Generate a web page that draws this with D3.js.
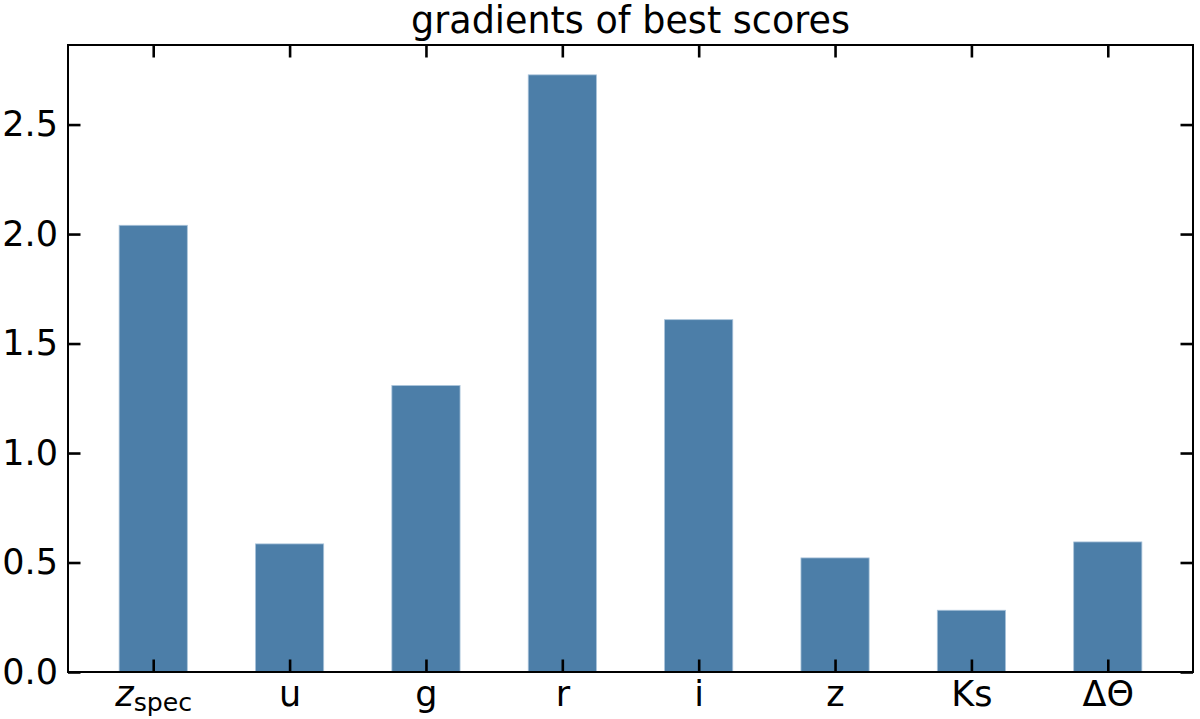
<!DOCTYPE html>
<html>
<head>
<meta charset="utf-8">
<script src="https://cdn.jsdelivr.net/npm/d3@7"></script>
<style>
  html, body { margin: 0; padding: 0; background: #fff; }
  svg { display: block; font-family: "DejaVu Sans", sans-serif; }
</style>
</head>
<body>
<svg id="chart" width="1200" height="719"></svg>
<script>
const categories = ["z_spec", "u", "g", "r", "i", "z", "Ks", "ΔΘ"];
const values = [2.040, 0.585, 1.308, 2.727, 1.609, 0.521, 0.282, 0.594];
const yTicks = [0.0, 0.5, 1.0, 1.5, 2.0, 2.5];
const yTickLabels = ["0.0", "0.5", "1.0", "1.5", "2.0", "2.5"];
const title = "gradients of best scores";

const W = 1200, H = 719;
const m = { left: 68, right: 1193, top: 45, bottom: 672 };
const svg = d3.select("#chart");

const idx = categories.map((d, i) => i);
const x = d3.scaleLinear().domain([-0.625, categories.length - 1 + 0.625]).range([m.left, m.right]);
const y = d3.scaleLinear().domain([0, d3.max(values) * 1.05]).range([m.bottom, m.top]);
const barW = x(0.5) - x(0);

// bars
svg.append("g").selectAll("rect").data(values).join("rect")
  .attr("x", (d, i) => x(i) - barW / 2)
  .attr("width", barW)
  .attr("y", d => y(d))
  .attr("height", d => y(0) - y(d))
  .attr("fill", "#4c7ea8")
  .attr("stroke", "#a9c3da")
  .attr("stroke-width", 0.8);

const fs = 35;
const tickLen = 12.5;

// left axis
const gl = svg.append("g").attr("transform", `translate(${m.left},0)`)
  .call(d3.axisLeft(y).tickValues(yTicks).tickFormat((d, i) => yTickLabels[i])
    .tickSizeInner(-tickLen).tickSizeOuter(0).tickPadding(10));
// right axis
const gr = svg.append("g").attr("transform", `translate(${m.right},0)`)
  .call(d3.axisRight(y).tickValues(yTicks).tickFormat("")
    .tickSizeInner(-tickLen).tickSizeOuter(0));
// bottom axis
const gb = svg.append("g").attr("transform", `translate(0,${m.bottom})`)
  .call(d3.axisBottom(x).tickValues(idx).tickFormat((d) => categories[d])
    .tickSizeInner(-tickLen).tickSizeOuter(0).tickPadding(9));
// top axis
const gt = svg.append("g").attr("transform", `translate(0,${m.top})`)
  .call(d3.axisTop(x).tickValues(idx).tickFormat("")
    .tickSizeInner(-tickLen).tickSizeOuter(0));

[gl, gr, gb, gt].forEach(g => {
  g.select(".domain").remove();
  g.selectAll(".tick line").attr("stroke", "#000").attr("stroke-width", 2.6);
  g.selectAll(".tick text").attr("fill", "#000")
    .style("font-size", fs + "px").style("font-family", "'DejaVu Sans', sans-serif");
});

// z_spec label with subscript
gb.selectAll(".tick text").each(function(d) {
  const lab = categories[d];
  if (lab.includes("_")) {
    const [base, sub] = lab.split("_");
    const t = d3.select(this).text(null);
    t.append("tspan").text(base).style("font-style", "italic");
    t.append("tspan").text(sub).attr("dy", "0.2em").style("font-size", (fs * 0.72) + "px");
  }
});

// frame
svg.append("rect")
  .attr("x", m.left).attr("y", m.top)
  .attr("width", m.right - m.left).attr("height", m.bottom - m.top)
  .attr("fill", "none").attr("stroke", "#000").attr("stroke-width", 2);

// title
svg.append("text")
  .attr("x", (m.left + m.right) / 2).attr("y", 33)
  .attr("text-anchor", "middle")
  .style("font-size", "36.5px")
  .attr("fill", "#000")
  .text(title);
</script>
</body>
</html>
